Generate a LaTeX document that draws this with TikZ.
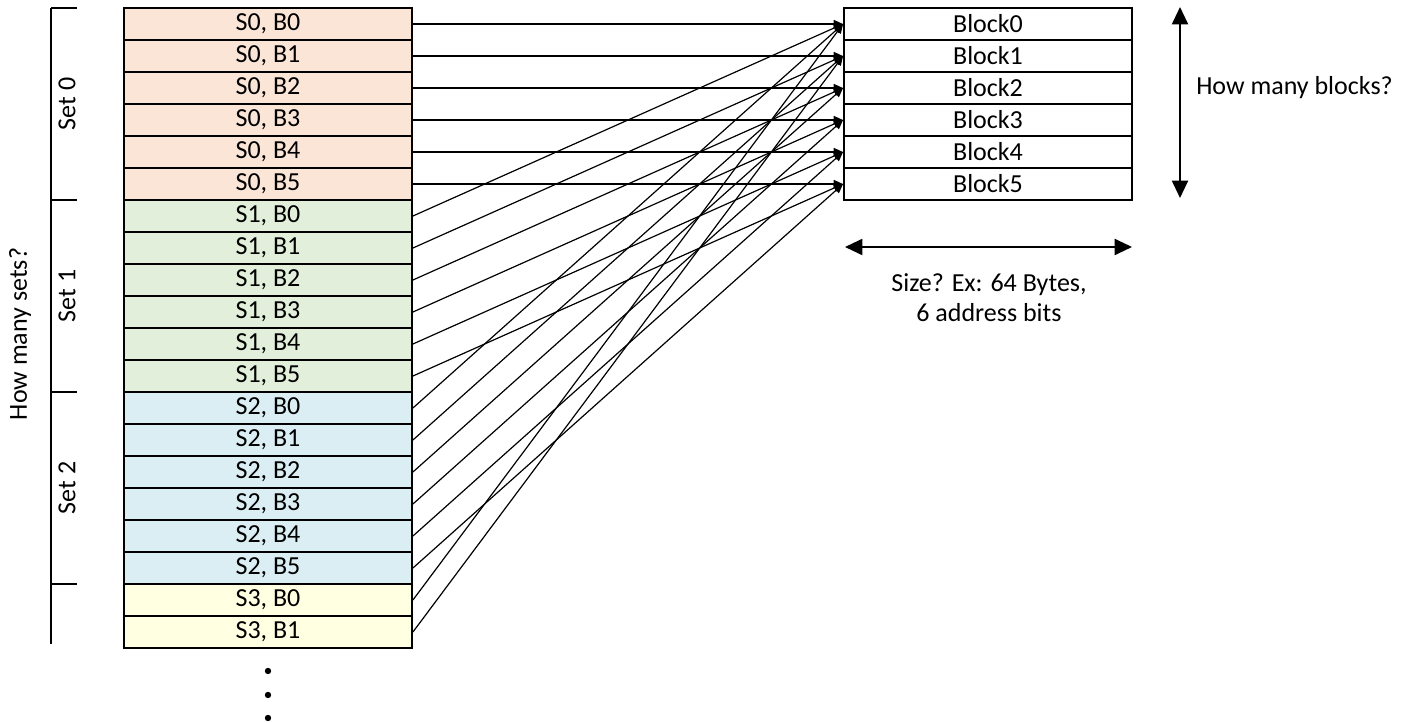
\documentclass[tikz,border=0pt]{standalone}
\usepackage{fontspec}
\setmainfont{Carlito}
\usetikzlibrary{arrows.meta}
\definecolor{setzero}{HTML}{FBE5D6}
\definecolor{setone}{HTML}{E2EFDA}
\definecolor{settwo}{HTML}{DAEEF3}
\definecolor{setthree}{HTML}{FFFFE1}
\tikzstyle{cell} = [rectangle, 
minimum width=216pt, 
minimum height=24pt, 
inner sep=0pt, 
text centered, 
draw=black, 
line width=1.4pt, 
font=\fontsize{19.5}{22.5}\selectfont]
\tikzstyle{set0} = [cell, fill=setzero]
\tikzstyle{set1} = [cell, fill=setone]
\tikzstyle{set2} = [cell, fill=settwo]
\tikzstyle{set3} = [cell, fill=setthree]
\tikzstyle{block} = [cell, fill=white]
\tikzstyle{label} = [font=\fontsize{19.5}{22.5}\selectfont, inner sep=0pt]
\tikzstyle{arrow} = [line width=0.9pt, -{Triangle[length=7pt, width=6pt]}]
\tikzstyle{dim} = [line width=1.5pt, {Triangle[length=13pt, width=12pt]}-{Triangle[length=13pt, width=12pt]}]
\tikzstyle{bracket} = [line width=1.2pt]

\begin{document}
\begin{tikzpicture}[x=0.75pt, y=-0.75pt, node distance=24pt]
\useasboundingbox (0,0) rectangle (1406,723);

% set 0
\node (s0b0) [set0] at (268,24) {S0, B0};
\node (s0b1) [set0, below of=s0b0] {S0, B1};
\node (s0b2) [set0, below of=s0b1] {S0, B2};
\node (s0b3) [set0, below of=s0b2] {S0, B3};
\node (s0b4) [set0, below of=s0b3] {S0, B4};
\node (s0b5) [set0, below of=s0b4] {S0, B5};
% set 1
\node (s1b0) [set1, below of=s0b5] {S1, B0};
\node (s1b1) [set1, below of=s1b0] {S1, B1};
\node (s1b2) [set1, below of=s1b1] {S1, B2};
\node (s1b3) [set1, below of=s1b2] {S1, B3};
\node (s1b4) [set1, below of=s1b3] {S1, B4};
\node (s1b5) [set1, below of=s1b4] {S1, B5};
% set 2
\node (s2b0) [set2, below of=s1b5] {S2, B0};
\node (s2b1) [set2, below of=s2b0] {S2, B1};
\node (s2b2) [set2, below of=s2b1] {S2, B2};
\node (s2b3) [set2, below of=s2b2] {S2, B3};
\node (s2b4) [set2, below of=s2b3] {S2, B4};
\node (s2b5) [set2, below of=s2b4] {S2, B5};
% set 3
\node (s3b0) [set3, below of=s2b5] {S3, B0};
\node (s3b1) [set3, below of=s3b0] {S3, B1};

\fill (268,671) circle (3.2);
\fill (268,695) circle (3.2);
\fill (268,718) circle (3.2);

% blocks
\node (blk0) [block] at (988,24) {Block0};
\node (blk1) [block, below of=blk0] {Block1};
\node (blk2) [block, below of=blk1] {Block2};
\node (blk3) [block, below of=blk2] {Block3};
\node (blk4) [block, below of=blk3] {Block4};
\node (blk5) [block, below of=blk4] {Block5};

\draw [arrow] (s0b0.east) -- (blk0.west);
\draw [arrow] (s0b1.east) -- (blk1.west);
\draw [arrow] (s0b2.east) -- (blk2.west);
\draw [arrow] (s0b3.east) -- (blk3.west);
\draw [arrow] (s0b4.east) -- (blk4.west);
\draw [arrow] (s0b5.east) -- (blk5.west);
\draw [arrow] (s1b0.east) -- (blk0.west);
\draw [arrow] (s1b1.east) -- (blk1.west);
\draw [arrow] (s1b2.east) -- (blk2.west);
\draw [arrow] (s1b3.east) -- (blk3.west);
\draw [arrow] (s1b4.east) -- (blk4.west);
\draw [arrow] (s1b5.east) -- (blk5.west);
\draw [arrow] (s2b0.east) -- (blk0.west);
\draw [arrow] (s2b1.east) -- (blk1.west);
\draw [arrow] (s2b2.east) -- (blk2.west);
\draw [arrow] (s2b3.east) -- (blk3.west);
\draw [arrow] (s2b4.east) -- (blk4.west);
\draw [arrow] (s2b5.east) -- (blk5.west);
\draw [arrow] (s3b0.east) -- (blk0.west);
\draw [arrow] (s3b1.east) -- (blk1.west);

% set bracket
\draw [bracket] (51,8) -- (51,644);
\draw [bracket] (51,8) -- (77,8);
\draw [bracket] (51,200) -- (77,200);
\draw [bracket] (51,392) -- (77,392);
\draw [bracket] (51,584) -- (77,584);
\node (set0) [label, rotate=90] at (67,104) {Set 0};
\node (set1) [label, rotate=90] at (67,296) {Set 1};
\node (set2) [label, rotate=90] at (67,488) {Set 2};
\node (sets) [label, rotate=90] at (20,334) {How many sets?};

% block count and size
\coordinate (vtop) at (1180,7);
\coordinate (vbot) at (1180,198);
\draw [dim] (vtop) -- (vbot);
\node (blocks) [label, anchor=west] at (1196,88) {How many blocks?};

\coordinate (hleft) at (845,247);
\coordinate (hright) at (1132,247);
\draw [dim] (hleft) -- (hright);
\node (size) [label, align=center] at (989,298) {Size? Ex: 64 Bytes,\\6 address bits};

\end{tikzpicture}
\end{document}
